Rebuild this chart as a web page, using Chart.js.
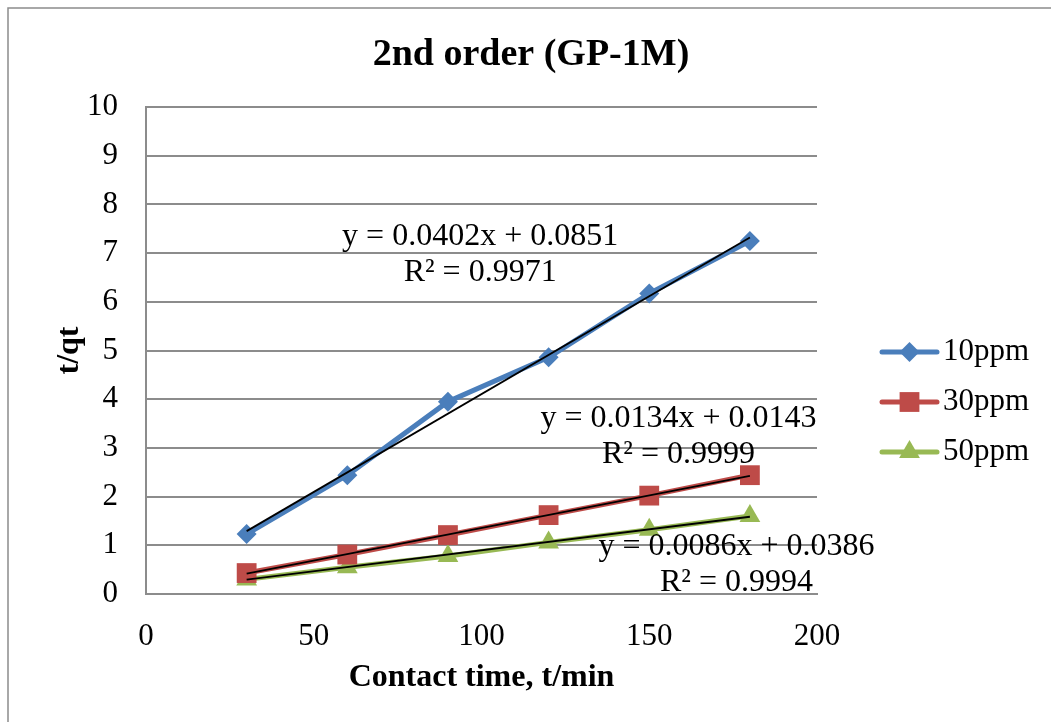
<!DOCTYPE html>
<html>
<head>
<meta charset="utf-8">
<title>2nd order (GP-1M)</title>
<script src="https://cdn.jsdelivr.net/npm/chart.js@4.4.0/dist/chart.umd.min.js"></script>
<style>
  html, body { margin: 0; padding: 0; background: #ffffff; }
  #wrap { width: 1051px; height: 722px; position: relative; }
  canvas { display: block; }
</style>
</head>
<body>
<div id="wrap"><canvas id="chart" width="1051" height="722"></canvas></div>
<script>
// Contact time (min) and t/qt values for each initial concentration
const contactTimes = [30, 60, 90, 120, 150, 180];
const seriesNames = ['10ppm', '30ppm', '50ppm'];
const tq10ppm = [1.23, 2.44, 3.95, 4.86, 6.17, 7.25];
const tq30ppm = [0.43, 0.81, 1.21, 1.62, 2.02, 2.44];
const tq50ppm = [0.30, 0.55, 0.78, 1.06, 1.32, 1.60];

// Linear fits of t/qt against t
const fitSlopes = [0.0402, 0.0134, 0.0086];
const fitIntercepts = [0.0851, 0.0143, 0.0386];
const fitR2 = ['0.9971', '0.9999', '0.9994'];

// Axis ticks
const xTickValues = [0, 50, 100, 150, 200];
const yTickValues = [0, 1, 2, 3, 4, 5, 6, 7, 8, 9, 10];

const FONT = "'Liberation Serif', 'Times New Roman', serif";
const seriesValues = [tq10ppm, tq30ppm, tq50ppm];
const seriesColors = ['#4a7ebb', '#be4b48', '#98b954'];
const pointStyles = ['rectRot', 'rect', 'triangle'];
const pointRadii = [10, 14, 12];

// Where each fit equation block sits, in data units (centre of the two lines)
const equationAnchors = [
  { x: 99.6, y: 6.97 },
  { x: 158.7, y: 3.24 },
  { x: 176.0, y: 0.61 }
];

const toPoints = (xs, ys) => xs.map((x, i) => ({ x: x, y: ys[i] }));

const datasets = [];
seriesValues.forEach((vals, i) => {
  datasets.push({
    label: seriesNames[i],
    data: toPoints(contactTimes, vals),
    showLine: true,
    borderColor: seriesColors[i],
    backgroundColor: seriesColors[i],
    borderWidth: 5,
    borderCapStyle: 'round',
    borderJoinStyle: 'round',
    pointStyle: pointStyles[i],
    pointRadius: pointRadii[i],
    pointHoverRadius: pointRadii[i],
    pointBorderWidth: 0,
    pointBackgroundColor: seriesColors[i],
    order: 2
  });
});
// Trend lines drawn from the fitted equations over the measured range
fitSlopes.forEach((m, i) => {
  const x0 = contactTimes[0];
  const x1 = contactTimes[contactTimes.length - 1];
  datasets.push({
    label: 'fit ' + seriesNames[i],
    data: [{ x: x0, y: m * x0 + fitIntercepts[i] }, { x: x1, y: m * x1 + fitIntercepts[i] }],
    showLine: true,
    borderColor: '#000000',
    borderWidth: 1.8,
    pointRadius: 0,
    pointHoverRadius: 0,
    order: 1
  });
});

// Gray outer frame of the chart
const framePlugin = {
  id: 'frame',
  beforeDraw(chart) {
    const ctx = chart.ctx;
    ctx.save();
    ctx.fillStyle = '#ffffff';
    ctx.fillRect(0, 0, chart.width, chart.height);
    ctx.strokeStyle = '#8c8c8c';
    ctx.lineWidth = 1.5;
    ctx.strokeRect(8, 8, chart.width + 20, chart.height + 20);
    ctx.restore();
  }
};

// Fit equations and R² values
const equationPlugin = {
  id: 'equations',
  afterDatasetsDraw(chart) {
    const ctx = chart.ctx;
    const xs = chart.scales.x, ys = chart.scales.y;
    ctx.save();
    ctx.font = '32px ' + FONT;
    ctx.fillStyle = '#000000';
    ctx.textAlign = 'center';
    ctx.textBaseline = 'middle';
    fitSlopes.forEach((m, i) => {
      const a = equationAnchors[i];
      const cx = xs.getPixelForValue(a.x);
      const cy = ys.getPixelForValue(a.y);
      const line1 = 'y = ' + m.toFixed(4) + 'x + ' + fitIntercepts[i].toFixed(4);
      const line2 = 'R\u00B2 = ' + fitR2[i];
      ctx.fillText(line1, cx, cy - 18);
      ctx.fillText(line2, cx, cy + 18);
    });
    ctx.restore();
  }
};

// Legend with line-and-marker keys on the right
const legendPlugin = {
  id: 'sideLegend',
  afterDraw(chart) {
    const ctx = chart.ctx;
    const area = chart.chartArea;
    const keyLeft = area.right + 65;
    const keyRight = keyLeft + 55;
    const top = area.top + 245;
    ctx.save();
    seriesNames.forEach((name, i) => {
      const y = top + i * 50;
      ctx.strokeStyle = seriesColors[i];
      ctx.lineWidth = 5;
      ctx.lineCap = 'round';
      ctx.beginPath();
      ctx.moveTo(keyLeft, y);
      ctx.lineTo(keyRight, y);
      ctx.stroke();
      ctx.fillStyle = seriesColors[i];
      Chart.helpers.drawPoint(ctx, {
        pointStyle: pointStyles[i],
        radius: pointRadii[i],
        rotation: 0,
        borderWidth: 0
      }, (keyLeft + keyRight) / 2, y);
      ctx.fillStyle = '#000000';
      ctx.font = '31px ' + FONT;
      ctx.textAlign = 'left';
      ctx.textBaseline = 'middle';
      ctx.fillText(name, keyRight + 6, y);
    });
    ctx.restore();
  }
};

new Chart(document.getElementById('chart'), {
  type: 'scatter',
  data: { datasets: datasets },
  options: {
    responsive: false,
    animation: false,
    devicePixelRatio: 1,
    layout: { padding: { left: 11, right: 0, top: 0, bottom: 0 } },
    plugins: {
      legend: { display: false },
      tooltip: { enabled: false },
      title: {
        display: true,
        text: '2nd order (GP-1M)',
        color: '#000000',
        font: { family: FONT, size: 38, weight: 'bold' },
        padding: { top: 32, bottom: 29.4 }
      }
    },
    scales: {
      x: {
        type: 'linear',
        min: 0,
        max: 200,
        afterBuildTicks(scale) { scale.ticks = xTickValues.map(v => ({ value: v })); },
        afterFit(scale) { scale.height = 128; },
        grid: { display: false },
        border: { display: true, color: '#8c8c8c', width: 2 },
        ticks: {
          color: '#000000',
          font: { family: FONT, size: 31 },
          padding: 16,
          maxRotation: 0
        },
        title: {
          display: true,
          text: 'Contact time, t/min',
          color: '#000000',
          font: { family: FONT, size: 32, weight: 'bold' },
          padding: { top: 0, bottom: 25 }
        }
      },
      y: {
        type: 'linear',
        min: 0,
        max: 10,
        afterBuildTicks(scale) { scale.ticks = yTickValues.map(v => ({ value: v })); },
        afterFit(scale) { scale.width = 135; },
        grid: { color: '#8c8c8c', lineWidth: 2, drawTicks: false },
        border: { display: true, color: '#8c8c8c', width: 2 },
        ticks: {
          color: '#000000',
          font: { family: FONT, size: 31 },
          padding: 28
        },
        title: {
          display: true,
          text: 't/qt',
          color: '#000000',
          font: { family: FONT, size: 32, weight: 'bold' },
          padding: { top: 40, bottom: 0 }
        }
      },
      legendSpace: {
        type: 'linear',
        position: 'right',
        display: true,
        afterFit(scale) { scale.width = 234; },
        grid: { display: false },
        border: { display: false },
        ticks: { display: false }
      }
    }
  },
  plugins: [framePlugin, equationPlugin, legendPlugin]
});
</script>
</body>
</html>
